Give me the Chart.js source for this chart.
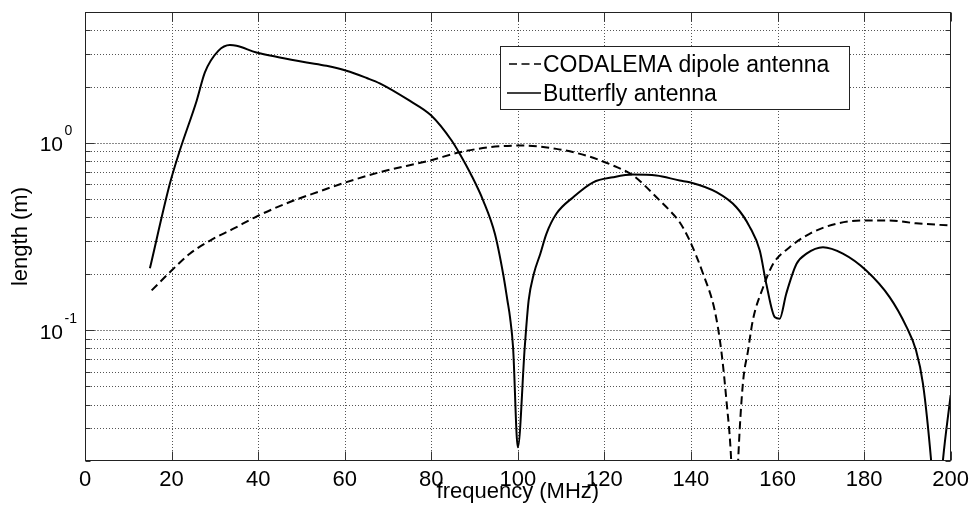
<!DOCTYPE html>
<html>
<head>
<meta charset="utf-8">
<title>Antenna effective length</title>
<script src="https://cdn.jsdelivr.net/npm/chart.js@4/dist/chart.umd.min.js"></script>
<style>
    html, body { margin: 0; padding: 0; background: #fff; }
    #lengthChart { display: block; }
</style>
</head>
<body>
<canvas id="lengthChart" width="975" height="513"></canvas>
<script>
// effective length vs frequency
const codalemaFreq = [15.4, 20.0, 24.2, 28.9, 34.3, 39.6, 46.6, 54.3, 60.4, 68.1, 79.7, 86.6, 93.5, 101.2, 108.9, 115.8, 122, 126.6, 132.8, 135.1, 137.4, 139.7, 142.8, 145.5, 147, 148.2, 149.3, 150.1, 150.9, 152, 153.2, 154.3, 156.7, 159, 162.8, 167.4, 173.6, 179.7, 185.9, 192, 199.8];
const codalemaLength = [0.163, 0.208, 0.256, 0.301, 0.348, 0.404, 0.476, 0.552, 0.617, 0.697, 0.805, 0.891, 0.948, 0.968, 0.929, 0.855, 0.757, 0.67, 0.492, 0.435, 0.377, 0.301, 0.2, 0.127, 0.078, 0.042, 0.02, 0.006, 0.02, 0.0518, 0.078, 0.113, 0.17, 0.226, 0.277, 0.327, 0.37, 0.385, 0.385, 0.372, 0.362];

const butterflyFreq = [15, 19.6, 21.9, 25.8, 27.7, 30.8, 33.5, 35, 39.6, 45, 51.2, 55.8, 60.4, 65.1, 68.1, 75, 80, 84.7, 86.6, 89.3, 92, 94.7, 96.6, 97.6, 98.2, 98.9, 100, 101.6, 102.5, 103.7, 105.2, 106.6, 108.9, 112.8, 117.4, 122, 126.6, 132, 137.4, 139.7, 145.9, 150.5, 153.6, 155.9, 157.4, 159.4, 160.5, 162, 164.4, 166.7, 170.5, 175.1, 180.5, 185.9, 189.8, 192, 193.6, 195.5, 196.8, 198.2, 200];
const butterflyLength = [0.214, 0.605, 0.91, 1.68, 2.38, 3.1, 3.33, 3.3, 3.04, 2.86, 2.69, 2.58, 2.43, 2.22, 2.08, 1.68, 1.40, 1.03, 0.873, 0.67, 0.492, 0.327, 0.2, 0.144, 0.117, 0.081, 0.0237, 0.081, 0.144, 0.2, 0.256, 0.327, 0.418, 0.513, 0.616, 0.655, 0.677, 0.67, 0.629, 0.616, 0.545, 0.453, 0.355, 0.266, 0.177, 0.117, 0.115, 0.156, 0.226, 0.256, 0.277, 0.256, 0.208, 0.15, 0.104, 0.078, 0.0518, 0.02, 0.008, 0.02, 0.045];

const seriesNames = ['CODALEMA dipole antenna', 'Butterfly antenna'];

const xTicks = [0, 20, 40, 60, 80, 100, 120, 140, 160, 180, 200];
const yGrid = [0.02, 0.03, 0.04, 0.05, 0.06, 0.07, 0.08, 0.09, 0.1, 0.2, 0.3, 0.4, 0.5, 0.6, 0.7, 0.8, 0.9, 1, 2, 3, 4, 5];
const yDecades = [0.1, 1];
const yDecadeExp = ['-1', '0'];

const FONT = '"Liberation Sans", Arial, Helvetica, sans-serif';
const DASH = [8, 4.5];

function toPoints(xs, ys) {
    return xs.map((x, i) => ({ x: x, y: ys[i] }));
}

// matlab-ish frame: dotted grid, inward ticks, boxed legend
const framePlugin = {
    id: 'frame',
    beforeDatasetsDraw(chart) {
        const ctx = chart.ctx;
        const area = chart.chartArea;
        const xs = chart.scales.x;
        const ys = chart.scales.y;
        ctx.save();
        ctx.lineWidth = 1;

        //vertical grid
        ctx.strokeStyle = '#555';
        ctx.setLineDash([1, 2]);
        xTicks.forEach(v => {
            if (v === xs.min || v === xs.max) return;
            const px = Math.round(xs.getPixelForValue(v)) + 0.5;
            ctx.beginPath();
            ctx.moveTo(px, area.top);
            ctx.lineTo(px, area.bottom);
            ctx.stroke();
        });

        //horizontal grid, decades a bit denser
        yGrid.forEach(v => {
            const py = Math.round(ys.getPixelForValue(v)) + 0.5;
            if (py <= area.top + 1 || py >= area.bottom - 1) return;
            const decade = yDecades.includes(v);
            ctx.strokeStyle = decade ? '#8a8a8a' : '#555';
            ctx.setLineDash(decade ? [2, 1] : [1, 2]);
            ctx.beginPath();
            ctx.moveTo(area.left, py);
            ctx.lineTo(area.right, py);
            ctx.stroke();
        });
        ctx.restore();
    },
    afterDatasetsDraw(chart) {
        const ctx = chart.ctx;
        const area = chart.chartArea;
        const xs = chart.scales.x;
        const ys = chart.scales.y;
        const l = Math.round(area.left) + 0.5;
        const r = Math.round(area.right) - 0.5;
        const t = Math.round(area.top) + 0.5;
        const b = Math.round(area.bottom) - 0.5;
        ctx.save();
        ctx.setLineDash([]);
        ctx.lineWidth = 1;
        ctx.strokeStyle = '#333';

        //inward tick marks
        xTicks.forEach(v => {
            const px = Math.round(xs.getPixelForValue(v)) + 0.5;
            ctx.beginPath();
            ctx.moveTo(px, b); ctx.lineTo(px, b - 9);
            ctx.moveTo(px, t); ctx.lineTo(px, t + 9);
            ctx.stroke();
        });
        yGrid.forEach(v => {
            const py = Math.round(ys.getPixelForValue(v)) + 0.5;
            const len = yDecades.includes(v) ? 9 : 5;
            ctx.beginPath();
            ctx.moveTo(l, py); ctx.lineTo(l + len, py);
            ctx.moveTo(r, py); ctx.lineTo(r - len, py);
            ctx.stroke();
        });

        //box
        ctx.strokeStyle = '#222';
        ctx.strokeRect(l, t, r - l, b - t);

        //y labels as 10^n
        ctx.fillStyle = '#000';
        ctx.textBaseline = 'alphabetic';
        yDecades.forEach((v, i) => {
            const py = ys.getPixelForValue(v);
            ctx.font = '21px ' + FONT;
            ctx.textAlign = 'right';
            ctx.fillText('10', 63, py + 8.5);
            ctx.font = '14px ' + FONT;
            ctx.textAlign = 'left';
            ctx.fillText(yDecadeExp[i], 64.5, py - 7.5);
        });

        //axis titles
        ctx.font = '22px ' + FONT;
        ctx.textAlign = 'center';
        ctx.fillText('frequency (MHz)', (area.left + area.right) / 2, 498);
        ctx.save();
        ctx.translate(21, (area.top + area.bottom) / 2);
        ctx.rotate(-Math.PI / 2);
        ctx.textBaseline = 'middle';
        ctx.fillText('length (m)', 0, 0);
        ctx.restore();

        //legend
        const lx = 500.5, ly = 46.5, lw = 349, lh = 63;
        ctx.fillStyle = '#fff';
        ctx.fillRect(lx, ly, lw, lh);
        ctx.strokeStyle = '#222';
        ctx.strokeRect(lx, ly, lw, lh);
        ctx.strokeStyle = '#000';
        ctx.lineWidth = 1.6;
        ctx.setLineDash(DASH);
        ctx.beginPath();
        ctx.moveTo(509, 64); ctx.lineTo(541, 64);
        ctx.stroke();
        ctx.setLineDash([]);
        ctx.beginPath();
        ctx.moveTo(507, 93); ctx.lineTo(541, 93);
        ctx.stroke();
        ctx.fillStyle = '#000';
        ctx.font = '23px ' + FONT;
        ctx.textAlign = 'left';
        ctx.textBaseline = 'alphabetic';
        ctx.fillText(seriesNames[0], 543, 72);
        ctx.fillText(seriesNames[1], 543, 101);
        ctx.restore();
    }
};

new Chart(document.getElementById('lengthChart'), {
    type: 'line',
    data: {
        datasets: [
            {
                label: seriesNames[0],
                data: toPoints(codalemaFreq, codalemaLength),
                borderColor: '#000',
                borderWidth: 2,
                borderDash: DASH,
                pointRadius: 0,
                cubicInterpolationMode: 'monotone',
                clip: 0
            },
            {
                label: seriesNames[1],
                data: toPoints(butterflyFreq, butterflyLength),
                borderColor: '#000',
                borderWidth: 2,
                pointRadius: 0,
                cubicInterpolationMode: 'monotone',
                clip: 0
            }
        ]
    },
    options: {
        responsive: false,
        animation: false,
        events: [],
        layout: { padding: { left: 0, top: 12, right: 24, bottom: 0 } },
        plugins: {
            legend: { display: false },
            tooltip: { enabled: false }
        },
        scales: {
            x: {
                type: 'linear',
                min: 0,
                max: 200,
                afterFit: scale => { scale.height = 52; },
                afterBuildTicks: scale => { scale.ticks = xTicks.map(v => ({ value: v })); },
                grid: { display: false, drawTicks: false },
                border: { display: false },
                ticks: {
                    color: '#000',
                    padding: 6,
                    maxRotation: 0,
                    autoSkip: false,
                    font: { family: FONT, size: 22 }
                }
            },
            y: {
                type: 'logarithmic',
                min: 0.02,
                max: 5,
                afterFit: scale => { scale.width = 85; },
                afterBuildTicks: scale => { scale.ticks = yGrid.map(v => ({ value: v })); },
                grid: { display: false, drawTicks: false },
                border: { display: false },
                ticks: { display: false }
            }
        }
    },
    plugins: [framePlugin]
});
</script>
</body>
</html>
